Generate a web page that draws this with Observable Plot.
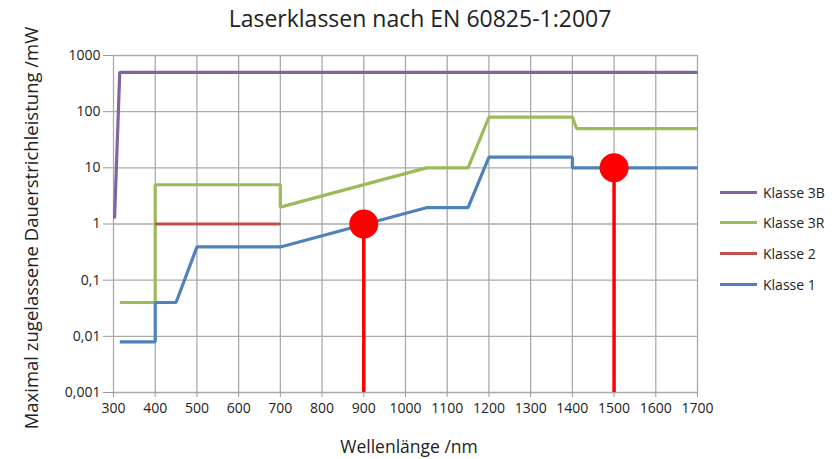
<!DOCTYPE html>
<html>
<head>
<meta charset="utf-8">
<script src="https://cdn.jsdelivr.net/npm/d3@7"></script>
<script src="https://cdn.jsdelivr.net/npm/@observablehq/plot@0.6"></script>
<style>
  body { margin: 0; background: #fff; font-family: "Open Sans", sans-serif; }
  #wrap { position: relative; width: 838px; height: 459px; overflow: hidden; }
  #title { position: absolute; left: 0; width: 840px; top: 2px; text-align: center; font-size: 23px; color: #222; }
  #ylabel { position: absolute; left: 30px; top: 228px; transform: translate(-50%, -50%) rotate(-90deg); white-space: nowrap; font-size: 18.5px; color: #222; }
  #xlabel { position: absolute; left: 409px; top: 434px; transform: translateX(-50%); white-space: nowrap; font-size: 17.5px; color: #222; }
  #legend { position: absolute; left: 720px; top: 177px; font-size: 14px; color: #222; }
  .li { display: flex; align-items: center; height: 30.6px; }
  .sw { width: 37px; height: 3px; margin-right: 6px; }
</style>
</head>
<body>
<div id="wrap">
  <div id="title"></div>
  <div id="chart"></div>
  <div id="ylabel"></div>
  <div id="xlabel"></div>
  <div id="legend"></div>
</div>
<script>
const titleText = "Laserklassen nach EN 60825-1:2007";
const xLabel = "Wellenlänge /nm";
const yLabel = "Maximal zugelassene Dauerstrichleistung /mW";

const classes = ["Klasse 3B", "Klasse 3R", "Klasse 2", "Klasse 1"];
const classColors = ["#8064A2", "#9BBB59", "#C0504D", "#4F81BD"];

const k3B_nm = [302.5, 315, 1700];
const k3B_mW = [1.25, 500, 500];

const k3R_nm = [315, 400, 400, 700, 700, 1050, 1150, 1200, 1400, 1410, 1700];
const k3R_mW = [0.04, 0.04, 5, 5, 2, 10, 10, 80, 80, 50, 50];

const k2_nm = [400, 700];
const k2_mW = [1, 1];

const k1_nm = [315, 400, 400, 450, 500, 700, 1050, 1150, 1200, 1400, 1400, 1700];
const k1_mW = [0.008, 0.008, 0.04, 0.04, 0.39, 0.39, 1.95, 1.95, 15.5, 15.5, 10, 10];

const markerNm = [900, 1500];
const markerMW = [1, 10];

const xTicks = d3.range(300, 1701, 100);
const yTicks = [0.001, 0.01, 0.1, 1, 10, 100, 1000];

const seriesNm = [k3B_nm, k3R_nm, k2_nm, k1_nm];
const seriesMW = [k3B_mW, k3R_mW, k2_mW, k1_mW];
const rows = [];
classes.forEach((c, i) => seriesNm[i].forEach((nm, j) => rows.push({series: c, nm, mW: seriesMW[i][j]})));
const markers = markerNm.map((nm, i) => ({nm, mW: markerMW[i]}));

const fmt = d => String(d).replace(".", ",");

const chart = Plot.plot({
  width: 838,
  height: 459,
  marginLeft: 113,
  marginRight: 141,
  marginTop: 55,
  marginBottom: 67,
  style: {fontFamily: "'Open Sans', sans-serif", fontSize: "14px", color: "#222", background: "#fff"},
  x: {domain: [300, 1700], ticks: xTicks},
  y: {type: "log", domain: [0.001, 1000], ticks: yTicks},
  color: {domain: classes, range: classColors},
  marks: [
    Plot.gridX(xTicks, {stroke: "#aaa", strokeOpacity: 1, strokeWidth: 1.3}),
    Plot.gridY(yTicks, {stroke: "#aaa", strokeOpacity: 1, strokeWidth: 1.3}),
    Plot.axisX({ticks: xTicks, tickSize: 5, tickPadding: 6, stroke: "#999", fill: "#222", label: null, tickFormat: d => String(d)}),
    Plot.axisY({ticks: yTicks, tickSize: 10, tickPadding: 3, stroke: "#999", fill: "#222", label: null, tickFormat: fmt}),
    Plot.line(rows, {x: "nm", y: "mW", stroke: "series", z: "series", strokeWidth: 3.2, strokeLinejoin: "miter", strokeLinecap: "butt"}),
    Plot.ruleX(markers, {x: "nm", y1: 0.001, y2: "mW", stroke: "#FF0000", strokeWidth: 3.5}),
    Plot.dot(markers, {x: "nm", y: "mW", r: 14.5, fill: "#FF0000", stroke: "none"})
  ]
});
document.getElementById("chart").appendChild(chart);

document.getElementById("title").textContent = titleText;
document.getElementById("xlabel").textContent = xLabel;
document.getElementById("ylabel").textContent = yLabel;
const legend = document.getElementById("legend");
classes.forEach((c, i) => {
  const row = document.createElement("div");
  row.className = "li";
  const sw = document.createElement("div");
  sw.className = "sw";
  sw.style.background = classColors[i];
  const t = document.createElement("span");
  t.textContent = c;
  row.appendChild(sw);
  row.appendChild(t);
  legend.appendChild(row);
});
</script>
</body>
</html>
